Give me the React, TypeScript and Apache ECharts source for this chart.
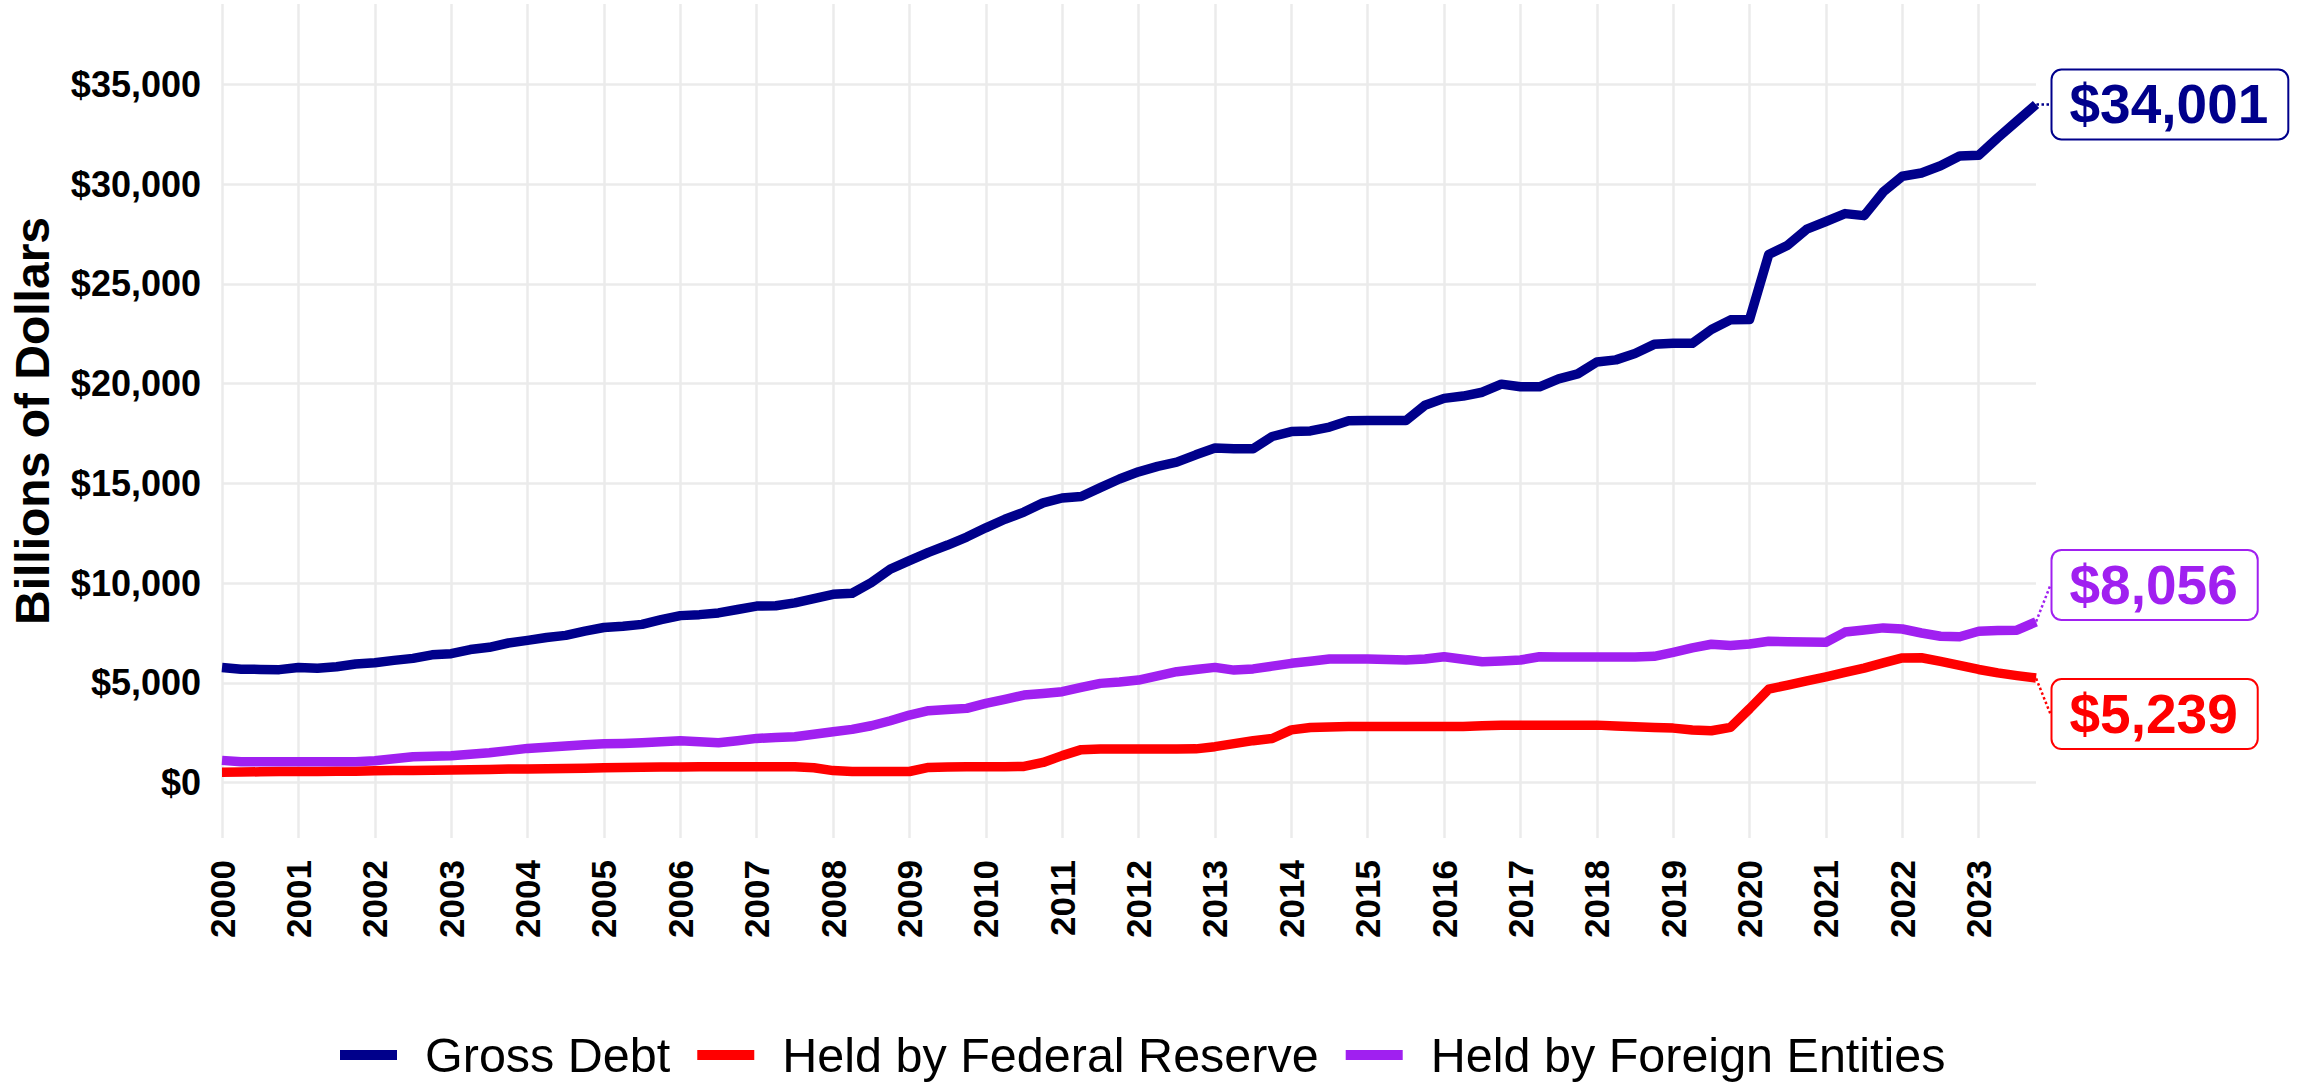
import React, { useEffect, useRef } from "react";
import * as echarts from "echarts";

const startYear = 2000;
const endYear = 2023.75;

const seriesNames = ["Gross Debt", "Held by Federal Reserve", "Held by Foreign Entities"];
const seriesColors = ["#00008B", "#FF0000", "#A020F0"];

// Quarterly values, billions of dollars, 2000 Q1 .. 2023 Q4
const grossDebt = [
  5773, 5686, 5674, 5662,
  5774, 5727, 5807, 5943,
  6006, 6126, 6228, 6405,
  6460, 6670, 6783, 6998,
  7131, 7274, 7379, 7596,
  7777, 7836, 7933, 8170,
  8371, 8420, 8507, 8680,
  8849, 8867, 9008, 9229,
  9437, 9492, 10025, 10700,
  11127, 11545, 11910, 12311,
  12773, 13202, 13562, 14025,
  14270, 14343, 14790, 15223,
  15582, 15856, 16066, 16433,
  16771, 16738, 16738, 17352,
  17601, 17633, 17824, 18141,
  18152, 18152, 18151, 18922,
  19264, 19381, 19573, 19977,
  19846, 19845, 20245, 20493,
  21090, 21195, 21516, 21974,
  22028, 22023, 22719, 23201,
  23224, 26477, 26945, 27748,
  28133, 28529, 28428, 29617,
  30401, 30568, 30929, 31420,
  31458, 32332, 33167, 34001,
];

const heldByFed = [
  520, 525, 540, 555,
  560, 560, 565, 570,
  590, 600, 610, 620,
  630, 645, 660, 675,
  685, 695, 705, 720,
  740, 755, 765, 775,
  785, 790, 790, 790,
  790, 790, 790, 740,
  600, 555, 555, 555,
  555, 760, 785, 790,
  790, 790, 810, 1010,
  1350, 1650, 1680, 1680,
  1680, 1680, 1680, 1690,
  1800, 1950, 2100, 2210,
  2640, 2760, 2790, 2810,
  2810, 2810, 2810, 2810,
  2810, 2810, 2850, 2870,
  2870, 2870, 2870, 2870,
  2880, 2840, 2800, 2760,
  2730, 2640, 2600, 2770,
  3700, 4680, 4890, 5100,
  5300, 5520, 5740, 6000,
  6250, 6260, 6080, 5880,
  5670, 5500, 5360, 5239,
];

const heldByForeign = [
  1112, 1045, 1045, 1045,
  1045, 1040, 1040, 1045,
  1095, 1190, 1295, 1320,
  1345, 1420, 1496, 1600,
  1713, 1770, 1830, 1900,
  1940, 1964, 2000, 2047,
  2100, 2050, 2000, 2100,
  2215, 2260, 2300, 2420,
  2549, 2666, 2850, 3100,
  3385, 3603, 3660, 3720,
  3970, 4170, 4388, 4470,
  4556, 4770, 4974, 5040,
  5140, 5350, 5558, 5670,
  5775, 5640, 5700, 5840,
  5978, 6080, 6193, 6200,
  6193, 6170, 6143, 6200,
  6310, 6180, 6059, 6100,
  6143, 6310, 6300, 6300,
  6302, 6302, 6302, 6330,
  6530, 6750, 6937, 6870,
  6950, 7085, 7060, 7050,
  7035, 7546, 7650, 7756,
  7700, 7500, 7338, 7310,
  7587, 7620, 7640, 8056,
];

const seriesValues = [grossDebt, heldByFed, heldByForeign];
const labelShiftY = [0, 36, -37];

const FONT = "'Liberation Sans', Arial, Helvetica, sans-serif";

function fmtDollar(v: number) {
  return "$" + Math.round(v).toLocaleString("en-US");
}

export default function App() {
  const ref = useRef<HTMLDivElement>(null);

  useEffect(() => {
    if (!ref.current) return;
    const chart = echarts.init(ref.current, undefined, { renderer: "svg" });

    const series = seriesValues.map((vals, si) => {
      const color = seriesColors[si];
      const data = vals.map((v, i) => {
        const x = startYear + i / 4;
        if (i === vals.length - 1) {
          return {
            value: [x, v],
            symbol: "circle",
            symbolSize: 1,
            label: {
              show: true,
              position: "right",
              distance: 16,
              formatter: (p: any) => fmtDollar(p.value[1]),
              fontFamily: FONT,
              fontSize: 55,
              fontWeight: "bold",
              color,
              backgroundColor: "#ffffff",
              borderColor: color,
              borderWidth: 2,
              borderRadius: 9,
              padding: [3, 19, 3, 17],
              lineHeight: 62,
            },
          };
        }
        return { value: [x, v] };
      });
      return {
        name: seriesNames[si],
        type: "line",
        data,
        symbol: "none",
        showSymbol: true,
        clip: false,
        color,
        itemStyle: { color },
        lineStyle: { width: 9.5, color, cap: "butt", join: "round" },
        label: { show: false },
        labelLayout: { dy: labelShiftY[si] },
        labelLine: { show: true, lineStyle: { type: "dotted", width: 2.5, color } },
        emphasis: { disabled: true },
        z: 3,
      };
    });

    const option: any = {
      animation: false,
      backgroundColor: "#ffffff",
      textStyle: { fontFamily: FONT },
      grid: { left: 220, right: 266, top: 4, bottom: 245, containLabel: false },
      xAxis: {
        type: "value",
        min: startYear,
        max: endYear,
        interval: 1,
        axisLine: { show: false },
        axisTick: { show: false },
        axisLabel: {
          rotate: 90,
          margin: 22,
          fontSize: 35,
          fontWeight: "bold",
          color: "#000000",
          fontFamily: FONT,
          showMaxLabel: false,
          formatter: (v: number) => (Number.isInteger(v) ? String(v) : ""),
        },
        splitLine: {
          show: true,
          showMaxLine: false,
          lineStyle: { color: "#EBEBEB", width: 2.5 },
        },
      },
      yAxis: {
        type: "value",
        min: -2780,
        max: 39040,
        splitNumber: 8,
        name: "Billions of Dollars",
        nameLocation: "middle",
        nameGap: 166,
        nameRotate: 90,
        nameTextStyle: { fontSize: 48, fontWeight: "bold", color: "#000000", fontFamily: FONT },
        axisLine: { show: false },
        axisTick: { show: false },
        axisLabel: {
          margin: 21,
          fontSize: 36,
          fontWeight: "bold",
          color: "#000000",
          fontFamily: FONT,
          showMinLabel: false,
          showMaxLabel: false,
          formatter: (v: number) => (v % 5000 === 0 ? fmtDollar(v) : ""),
        },
        splitLine: {
          show: true,
          showMinLine: false,
          showMaxLine: false,
          lineStyle: { color: "#EBEBEB", width: 2.5 },
        },
      },
      legend: {
        data: seriesNames,
        left: 335,
        top: 1025,
        orient: "horizontal",
        icon: "rect",
        itemWidth: 57,
        itemHeight: 10,
        itemGap: 27,
        selectedMode: false,
        textStyle: {
          fontSize: 48.5,
          color: "#000000",
          fontFamily: FONT,
          lineHeight: 50,
          padding: [0, 0, 0, 23],
        },
      },
      series,
    };

    chart.setOption(option);
    return () => {
      chart.dispose();
    };
  }, []);

  return (
    <div
      ref={ref}
      style={{ position: "absolute", left: 0, top: 0, width: 2302, height: 1083, background: "#fff" }}
    />
  );
}
